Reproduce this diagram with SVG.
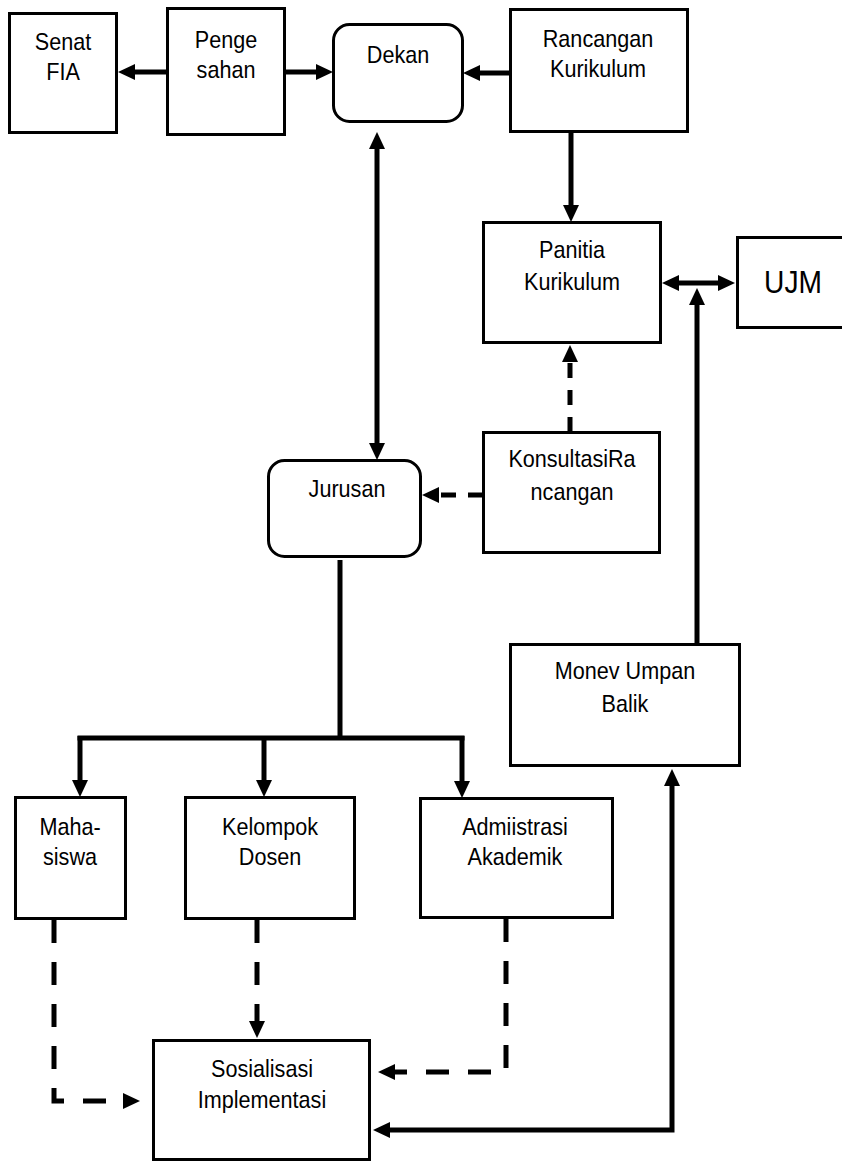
<svg xmlns="http://www.w3.org/2000/svg" width="842" height="1162" viewBox="0 0 842 1162">
<style>
.box{fill:#fff;stroke:#000;stroke-width:3}
.t{font-family:"Liberation Sans",Arial,sans-serif;font-size:24px;text-anchor:middle;fill:#000}
.big{font-size:32px}
.c{fill:none;stroke:#000;stroke-width:5}
.d{stroke-dasharray:23 19}
.d2{stroke-dasharray:15 12}
</style>
<defs>
<marker id="ah" markerUnits="userSpaceOnUse" markerWidth="17" markerHeight="16" refX="7" refY="8" orient="auto-start-reverse" overflow="visible">
<path d="M0,0 L17,8 L0,16 z" fill="#000" stroke="none"/>
</marker>
</defs>
<rect width="842" height="1162" fill="#fff"/>

<g id="senat"><rect class="box" x="9.5" y="13.5" width="107" height="119"/>
<text class="t" transform="translate(63 50) scale(0.9 1)">Senat</text>
<text class="t" transform="translate(63 80) scale(0.9 1)">FIA</text></g>

<g id="pengesahan"><rect class="box" x="167.5" y="8.5" width="117" height="126"/>
<text class="t" transform="translate(226 48) scale(0.9 1)">Penge</text>
<text class="t" transform="translate(226 78) scale(0.9 1)">sahan</text></g>

<g id="dekan"><rect class="box" x="333.5" y="24.5" width="129" height="97" rx="16"/>
<text class="t" transform="translate(398 63) scale(0.9 1)">Dekan</text></g>

<g id="rancangan"><rect class="box" x="510.5" y="9.5" width="177" height="122"/>
<text class="t" transform="translate(598 47) scale(0.9 1)">Rancangan</text>
<text class="t" transform="translate(598 77) scale(0.9 1)">Kurikulum</text></g>

<g id="panitia"><rect class="box" x="483.5" y="222.5" width="177" height="120"/>
<text class="t" transform="translate(572 258) scale(0.9 1)">Panitia</text>
<text class="t" transform="translate(572 290) scale(0.9 1)">Kurikulum</text></g>

<g id="ujm"><rect class="box" x="737.5" y="237.5" width="125" height="90"/>
<text class="t big" transform="translate(793 293) scale(0.88 1)">UJM</text></g>

<g id="jurusan"><rect class="box" x="268.5" y="460.5" width="152" height="96" rx="16"/>
<text class="t" transform="translate(347 497) scale(0.9 1)">Jurusan</text></g>

<g id="konsultasi"><rect class="box" x="483.5" y="432.5" width="176" height="120"/>
<text class="t" transform="translate(572 467) scale(0.9 1)">KonsultasiRa</text>
<text class="t" transform="translate(572 500) scale(0.9 1)">ncangan</text></g>

<g id="monev"><rect class="box" x="510.5" y="644.5" width="229" height="121"/>
<text class="t" transform="translate(625 679) scale(0.9 1)">Monev Umpan</text>
<text class="t" transform="translate(625 712) scale(0.9 1)">Balik</text></g>

<g id="mahasiswa"><rect class="box" x="15.5" y="797.5" width="110" height="121"/>
<text class="t" transform="translate(70 835) scale(0.9 1)">Maha-</text>
<text class="t" transform="translate(70 865) scale(0.9 1)">siswa</text></g>

<g id="kelompok"><rect class="box" x="185.5" y="797.5" width="169" height="121"/>
<text class="t" transform="translate(270 835) scale(0.9 1)">Kelompok</text>
<text class="t" transform="translate(270 865) scale(0.9 1)">Dosen</text></g>

<g id="administrasi"><rect class="box" x="420.5" y="798.5" width="192" height="119"/>
<text class="t" transform="translate(515 835) scale(0.9 1)">Admiistrasi</text>
<text class="t" transform="translate(515 865) scale(0.9 1)">Akademik</text></g>

<g id="sosialisasi"><rect class="box" x="153.5" y="1040.5" width="216" height="119"/>
<text class="t" transform="translate(262 1077) scale(0.9 1)">Sosialisasi</text>
<text class="t" transform="translate(262 1108) scale(0.9 1)">Implementasi</text></g>

<g id="connectors">
<path class="c" d="M167 72 H128" marker-end="url(#ah)"/>
<path class="c" d="M285 72 H323" marker-end="url(#ah)"/>
<path class="c" d="M510 73 H473" marker-end="url(#ah)"/>
<path class="c" d="M571 132 V212" marker-end="url(#ah)"/>
<path class="c" d="M377 142 V450" marker-start="url(#ah)" marker-end="url(#ah)"/>
<path class="c" d="M672 283 H725" marker-start="url(#ah)" marker-end="url(#ah)"/>
<path class="c" d="M697 644 V298" marker-end="url(#ah)"/>
<path class="c d2" d="M570 432 V355" marker-end="url(#ah)"/>
<path class="c d2" d="M483 495 H432" marker-end="url(#ah)"/>
<path class="c" d="M340 560 V738"/>
<path class="c" d="M77.5 738 H464.5"/>
<path class="c" d="M80 736 V787" marker-end="url(#ah)"/>
<path class="c" d="M264 736 V787" marker-end="url(#ah)"/>
<path class="c" d="M462 736 V788" marker-end="url(#ah)"/>
<path class="c d" d="M54 920 V1101 H130" marker-end="url(#ah)"/>
<path class="c d" d="M257 920 V1028" marker-end="url(#ah)"/>
<path class="c d" d="M506 919 V1072 H388" marker-end="url(#ah)"/>
<path class="c" d="M383 1130 H672 V779" marker-start="url(#ah)" marker-end="url(#ah)"/>
</g>
</svg>
